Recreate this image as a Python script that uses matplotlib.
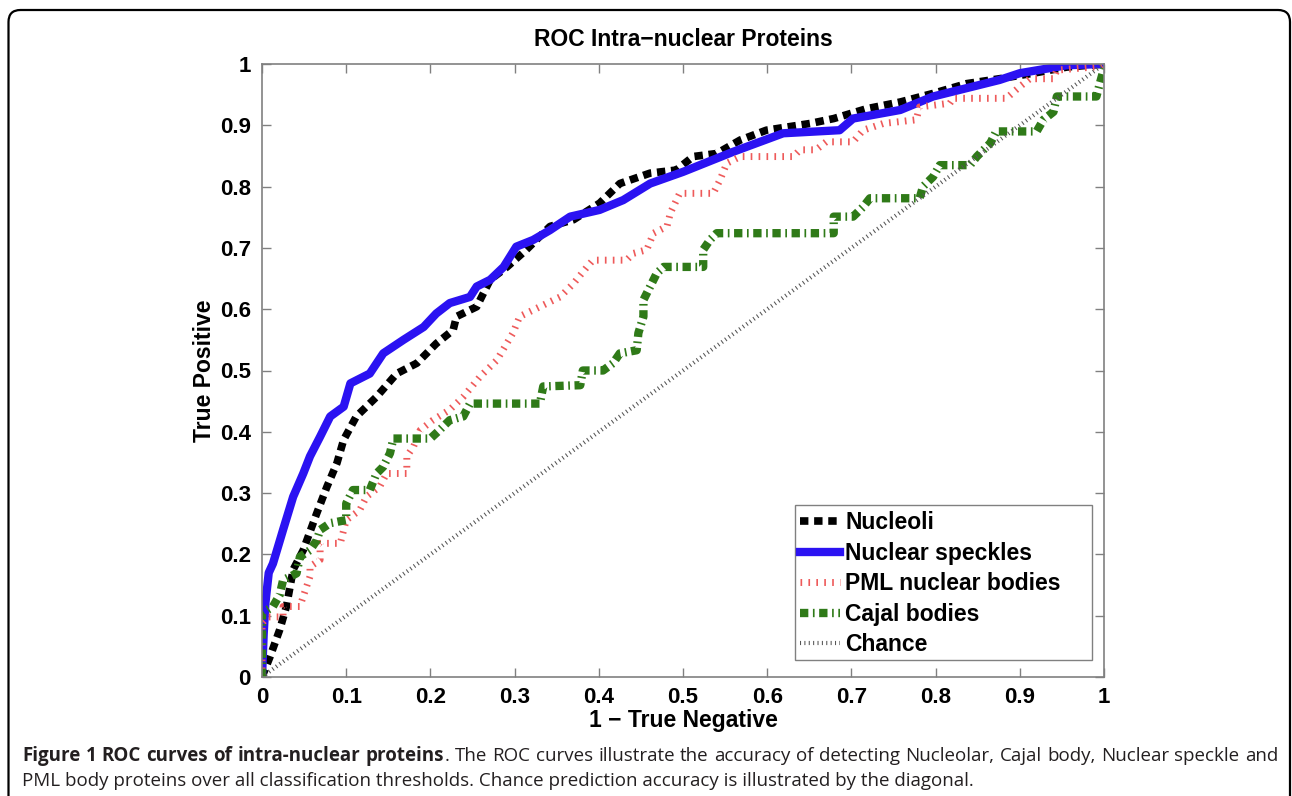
import matplotlib
matplotlib.use("Agg")
import matplotlib.pyplot as plt
from matplotlib.patches import FancyBboxPatch, Rectangle
from matplotlib.transforms import IdentityTransform

# ROC curves
nucleoli_x = [0, 0.0095, 0.021, 0.029, 0.037, 0.049, 0.065, 0.077, 0.089, 0.097, 0.112, 0.136, 0.16, 0.184,
              0.207, 0.227, 0.231, 0.255, 0.271, 0.291, 0.314, 0.342, 0.37, 0.401, 0.425, 0.461, 0.492, 0.512,
              0.54, 0.568, 0.599, 0.651, 0.679, 0.718, 0.758, 0.797, 0.837, 0.876, 0.916, 0.956, 1.0]
nucleoli_y = [0, 0.033, 0.077, 0.115, 0.175, 0.207, 0.267, 0.31, 0.349, 0.387, 0.425, 0.457, 0.495, 0.512,
              0.544, 0.566, 0.588, 0.604, 0.648, 0.669, 0.697, 0.735, 0.746, 0.773, 0.805, 0.822, 0.827, 0.849,
              0.854, 0.876, 0.892, 0.903, 0.911, 0.927, 0.938, 0.952, 0.968, 0.976, 0.985, 0.995, 1.0]

speckles_x = [0, 0.002, 0.004, 0.008, 0.013, 0.025, 0.037, 0.049, 0.057, 0.069, 0.081, 0.097, 0.105, 0.128,
              0.144, 0.168, 0.192, 0.207, 0.223, 0.247, 0.255, 0.271, 0.287, 0.302, 0.322, 0.342, 0.366, 0.401,
              0.429, 0.461, 0.5, 0.56, 0.619, 0.686, 0.702, 0.758, 0.797, 0.876, 0.9, 0.956, 1.0]
speckles_y = [0, 0.07, 0.12, 0.17, 0.185, 0.24, 0.294, 0.332, 0.36, 0.392, 0.425, 0.441, 0.479, 0.495,
              0.528, 0.55, 0.571, 0.593, 0.61, 0.62, 0.637, 0.648, 0.669, 0.702, 0.713, 0.729, 0.751, 0.762,
              0.778, 0.805, 0.824, 0.857, 0.887, 0.892, 0.911, 0.925, 0.947, 0.974, 0.985, 0.998, 1.0]

pml_x = [0, 0, 0.007, 0.025, 0.025, 0.045, 0.057, 0.057, 0.069, 0.069, 0.093, 0.1, 0.116, 0.124, 0.140,
         0.148, 0.172, 0.172, 0.18, 0.188, 0.203, 0.223, 0.239, 0.259, 0.279, 0.298, 0.306, 0.33, 0.354, 0.37,
         0.386, 0.393, 0.433, 0.441, 0.457, 0.465, 0.481, 0.485, 0.496, 0.536, 0.544, 0.552, 0.568, 0.631,
         0.639, 0.658, 0.670, 0.702, 0.714, 0.738, 0.777, 0.781, 0.817, 0.821, 0.884, 0.9, 0.912, 0.94, 0.944,
         0.995, 1.0]
pml_y = [0, 0.088, 0.098, 0.098, 0.115, 0.115, 0.164, 0.18, 0.191, 0.218, 0.218, 0.256, 0.272, 0.294, 0.311,
         0.332, 0.332, 0.36, 0.376, 0.403, 0.419, 0.436, 0.457, 0.49, 0.517, 0.561, 0.588, 0.604, 0.62, 0.642,
         0.669, 0.68, 0.68, 0.691, 0.697, 0.724, 0.735, 0.757, 0.789, 0.789, 0.811, 0.838, 0.849, 0.849,
         0.86, 0.86, 0.873, 0.873, 0.892, 0.903, 0.909, 0.930, 0.936, 0.944, 0.944, 0.963, 0.976, 0.976, 0.99,
         0.996, 1.0]

cajal_x = [0, 0, 0.013, 0.021, 0.025, 0.041, 0.045, 0.057, 0.065, 0.069, 0.081, 0.1, 0.1, 0.108, 0.128,
           0.136, 0.144, 0.152, 0.156, 0.2, 0.211, 0.223, 0.239, 0.247, 0.33, 0.334, 0.378, 0.381, 0.405,
           0.417, 0.425, 0.445, 0.447, 0.453, 0.453, 0.461, 0.469, 0.477, 0.524, 0.524, 0.532, 0.54, 0.679,
           0.679, 0.702, 0.714, 0.722, 0.781, 0.785, 0.797, 0.805, 0.841, 0.849, 0.865, 0.872, 0.92, 0.928,
           0.94, 0.944, 0.991, 0.995, 1.0, 1.0]
cajal_y = [0, 0.104, 0.115, 0.134, 0.158, 0.169, 0.196, 0.207, 0.223, 0.24, 0.251, 0.256, 0.283, 0.305, 0.305,
           0.332, 0.343, 0.365, 0.389, 0.389, 0.403, 0.419, 0.425, 0.446, 0.446, 0.474, 0.476, 0.5, 0.5,
           0.512, 0.528, 0.533, 0.561, 0.588, 0.615, 0.637, 0.659, 0.669, 0.669, 0.697, 0.713, 0.724, 0.724,
           0.751, 0.751, 0.767, 0.781, 0.781, 0.8, 0.816, 0.835, 0.835, 0.849, 0.871, 0.89, 0.89, 0.909,
           0.922, 0.947, 0.947, 0.968, 0.993, 1.0]

chance_x = [0, 1]
chance_y = [0, 1]

ticks = [0, 0.1, 0.2, 0.3, 0.4, 0.5, 0.6, 0.7, 0.8, 0.9, 1]
tick_labels = ["0", "0.1", "0.2", "0.3", "0.4", "0.5", "0.6", "0.7", "0.8", "0.9", "1"]

W, H = 1292, 796
fig = plt.figure(figsize=(W / 100, H / 100), dpi=100)
fig.patch.set_facecolor("white")

ax = fig.add_axes([262 / W, 1 - 677 / H, (1104 - 262) / W, (677 - 64) / H])

bold = dict(family="Liberation Sans", weight="bold")

ax.plot(nucleoli_x, nucleoli_y, color="black", lw=5.5, dashes=(1.1, 0.75),
        solid_capstyle="butt", dash_capstyle="butt", label="Nucleoli")
ax.plot(speckles_x, speckles_y, color="#2b12f2", lw=6, solid_joinstyle="round", label="Nuclear speckles")
ax.plot(pml_x, pml_y, color="#ee5a5a", lw=5, dashes=(0.24, 0.9), dash_capstyle="butt",
        label="PML nuclear bodies")
ax.plot(cajal_x, cajal_y, color="#2f7a18", lw=6, dashes=(1.0, 0.55, 0.2, 0.55), dash_capstyle="butt",
        label="Cajal bodies")
ax.plot(chance_x, chance_y, color="#555555", lw=3, dashes=(0.25, 0.8), dash_capstyle="butt",
        label="Chance")

ax.set_xlim(0, 1)
ax.set_ylim(0, 1)
ax.set_xticks(ticks)
ax.set_yticks(ticks)
ax.set_xticklabels(tick_labels, fontsize=16, **bold)
ax.set_yticklabels(tick_labels, fontsize=16, **bold)
ax.tick_params(direction="in", length=6.5, width=1, color="#808080", top=True, right=True)
ax.tick_params(axis="x", pad=7)
ax.tick_params(axis="y", pad=8)
for sp in ax.spines.values():
    sp.set_color("#808080")
    sp.set_linewidth(1.2)

ax.set_title("ROC Intra\u2212nuclear Proteins", fontsize=16.5, pad=13, **bold)
ax.set_xlabel("1 \u2212 True Negative", fontsize=16.5, labelpad=1, **bold)
ax.set_ylabel("True Positive", fontsize=16.5, labelpad=3, **bold)

# legend box drawn separately (MATLAB style wide box)
box = Rectangle((0.633, 0.0277), 0.9857 - 0.633, 0.2806 - 0.0277, transform=ax.transAxes,
                facecolor="white", edgecolor="#808080", lw=1.0, zorder=4)
ax.add_patch(box)
leg = ax.legend(loc="upper left", bbox_to_anchor=(0.639, 0.2705), prop=dict(size=16.5, **bold),
                handlelength=1.75, handletextpad=0.22, labelspacing=0.33, borderpad=0,
                borderaxespad=0, frameon=False)
leg.set_zorder(5)

# rounded outer frame (bottom runs off the page)
frame = FancyBboxPatch((8.5, -30), 1281.5, 816, boxstyle="round,pad=0,rounding_size=12",
                       facecolor="none", edgecolor="black", lw=1.6)
fig.add_artist(frame)
frame.set_transform(IdentityTransform())

# caption, first line justified between x=22 and x=1278
cap_size = 13.5
cap_font = "Open Sans"
line1 = [("Figure", "bold", True), ("1", "bold", True), ("ROC", "bold", True), ("curves", "bold", True),
         ("of", "bold", True), ("intra-nuclear", "bold", True), ("proteins", "bold", True),
         (".", "normal", False), ("The", "normal", True), ("ROC", "normal", True), ("curves", "normal", True),
         ("illustrate", "normal", True), ("the", "normal", True), ("accuracy", "normal", True),
         ("of", "normal", True), ("detecting", "normal", True), ("Nucleolar,", "normal", True),
         ("Cajal", "normal", True), ("body,", "normal", True), ("Nuclear", "normal", True),
         ("speckle", "normal", True), ("and", "normal", True)]
line2 = ("PML body proteins over all classification thresholds. "
         "Chance prediction accuracy is illustrated by the diagonal.")

renderer = fig.canvas.get_renderer()
y1 = 1 - 761 / H
y2 = 1 - 786 / H
texts = []
widths = []
for word, weight, _ in line1:
    t = fig.text(0, y1, word, fontsize=cap_size, family=cap_font, weight=weight, color="#231f20",
                 va="baseline", ha="left")
    texts.append(t)
    widths.append(t.get_window_extent(renderer).width)
n_gaps = sum(1 for w in line1[1:] if w[2])
gap = (1278 - 22 - sum(widths)) / n_gaps
xpos = 22.0
for i, t in enumerate(texts):
    if i > 0 and line1[i][2]:
        xpos += gap
    t.set_x(xpos / W)
    xpos += widths[i]

fig.text(22 / W, y2, line2, fontsize=cap_size, family=cap_font, color="#231f20", va="baseline", ha="left")

fig.savefig("out.png", dpi=100, facecolor="white")
